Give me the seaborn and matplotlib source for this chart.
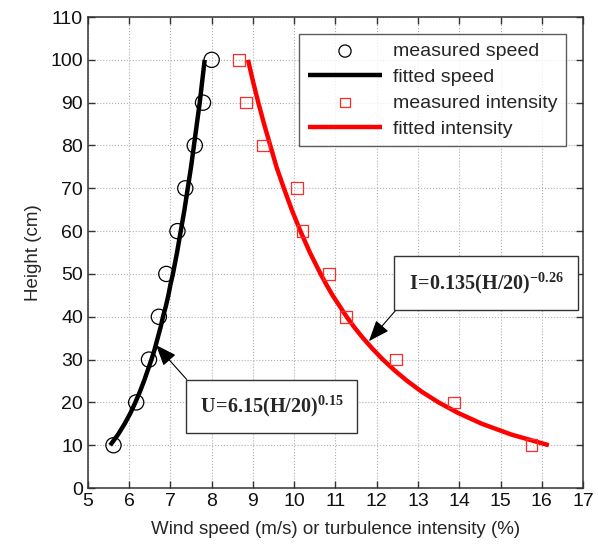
import numpy as np
import pandas as pd
import matplotlib
matplotlib.use("Agg")
import matplotlib.pyplot as plt
import seaborn as sns

# measured profiles
height = [10, 20, 30, 40, 50, 60, 70, 80, 90, 100]
speed = [5.62, 6.17, 6.48, 6.72, 6.9, 7.17, 7.36, 7.59, 7.79, 8.0]
intensity = [15.75, 13.87, 12.47, 11.25, 10.85, 10.2, 10.07, 9.25, 8.83, 8.66]

# fitted curves
fit_height = [10, 12.5, 15, 17.5, 20, 22.5, 25, 27.5, 30, 32.5, 35, 37.5, 40, 42.5,
              45, 47.5, 50, 55, 60, 65, 70, 75, 80, 85, 90, 95, 100]
fit_speed = [5.54, 5.73, 5.89, 6.03, 6.15, 6.26, 6.36, 6.45, 6.54, 6.62, 6.69, 6.76,
             6.82, 6.89, 6.95, 7.00, 7.06, 7.16, 7.25, 7.34, 7.42, 7.50, 7.57, 7.64,
             7.71, 7.77, 7.83]
fit_intensity = [16.17, 15.26, 14.55, 13.98, 13.5, 13.09, 12.74, 12.43, 12.15, 11.90,
                 11.67, 11.46, 11.27, 11.10, 10.93, 10.78, 10.64, 10.38, 10.15, 9.94,
                 9.75, 9.57, 9.42, 9.27, 9.13, 9.0, 8.88]

meas = pd.DataFrame({"H": height, "U": speed, "I": intensity})
fit = pd.DataFrame({"H": fit_height, "U": fit_speed, "I": fit_intensity})

sns.set_style("ticks")
plt.rcParams["font.family"] = ["Liberation Sans", "DejaVu Sans"]
plt.rcParams["mathtext.fontset"] = "custom"
plt.rcParams["mathtext.rm"] = "Liberation Serif"
plt.rcParams["mathtext.bf"] = "Liberation Serif:bold"

fig = plt.figure(figsize=(5.98, 5.49), dpi=100)
ax = fig.add_axes([0.147, 0.111, 0.828, 0.858])

sns.scatterplot(data=meas, x="U", y="H", ax=ax, marker="o", s=120,
                facecolor="none", edgecolor="black", linewidth=0.9,
                label="measured speed", zorder=3)
sns.lineplot(data=fit, x="U", y="H", ax=ax, sort=False, color="black",
             linewidth=3.2, label="fitted speed", zorder=2,
             solid_joinstyle="round", solid_capstyle="butt")
sns.scatterplot(data=meas, x="I", y="H", ax=ax, marker="s", s=70,
                facecolor="none", edgecolor="#ff2a2a", linewidth=0.9,
                label="measured intensity", zorder=3)
sns.lineplot(data=fit, x="I", y="H", ax=ax, sort=False, color="red",
             linewidth=3.2, label="fitted intensity", zorder=2,
             solid_joinstyle="round", solid_capstyle="butt")

ax.set_xlim(5, 17)
ax.set_ylim(0, 110)
ax.set_xticks(np.arange(5, 18, 1))
ax.set_yticks(np.arange(0, 111, 10))
ax.grid(True, linestyle=":", color="#b0b0b0", linewidth=0.8)
ax.tick_params(direction="in", top=True, right=True, labelsize=14, length=5,
               width=1, color="#333333", labelcolor="#111111")
for sp in ax.spines.values():
    sp.set_color("#333333")
    sp.set_linewidth(1.1)
ax.set_xlabel("Wind speed (m/s) or turbulence intensity (%)", fontsize=13.5, labelpad=8)
ax.set_ylabel("Height (cm)", fontsize=13.5, labelpad=6)

leg = ax.legend(loc="upper right", bbox_to_anchor=(0.985, 0.985), fontsize=14,
                frameon=True, fancybox=False, handlelength=3.8, borderpad=0.45,
                labelspacing=0.42, handletextpad=0.55, markerscale=0.8)
leg.get_frame().set_edgecolor("#333333")
leg.get_frame().set_linewidth(1.0)

box = dict(boxstyle="square,pad=0.7", facecolor="white", edgecolor="#333333", linewidth=1.0)
arrow1 = dict(arrowstyle="-|>,head_length=0.9,head_width=0.35", color="black",
              linewidth=0.8, shrinkA=0, shrinkB=0, relpos=(0, 1))
arrow2 = dict(arrowstyle="-|>,head_length=0.9,head_width=0.35", color="black",
              linewidth=0.8, shrinkA=0, shrinkB=0, relpos=(0, 0))
ax.annotate(r"$\mathbf{U\!=\!6.15(H/20)^{0.15}}$", xy=(6.65, 33.4), xytext=(9.45, 19.0),
            ha="center", va="center", fontsize=14.5, bbox=box, arrowprops=arrow1)
ax.annotate(r"$\mathbf{I\!=\!0.135(H/20)^{-0.26}}$", xy=(11.81, 34.3), xytext=(14.65, 47.9),
            ha="center", va="center", fontsize=14.5, bbox=box, arrowprops=arrow2)

fig.savefig("out.png", dpi=100)
